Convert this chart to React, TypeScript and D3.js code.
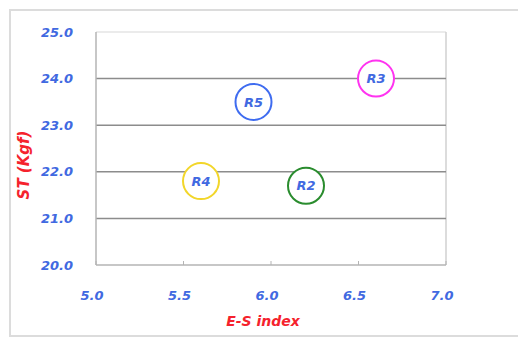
import React from "react";
import * as d3 from "d3";

const labels = ["R3", "R5", "R4", "R2"];
const esIndex = [6.6, 5.9, 5.6, 6.2];
const stValues = [24.0, 23.5, 21.8, 21.7];
const ringColors = ["#ff33f0", "#3f6cf0", "#f2d62a", "#2a8c2e"];
const xTicks = [5.0, 5.5, 6.0, 6.5, 7.0];
const yTicks = [20, 21, 22, 23, 24, 25];

const W = 518;
const H = 338;
const L = 96, R = 446, T = 32, B = 265;
const blue = "#4169e1";
const red = "#f5222d";
const font = "'DejaVu Sans', Verdana, sans-serif";

export default function App() {
  const x = d3.scaleLinear().domain([5, 7]).range([L, R]);
  const y = d3.scaleLinear().domain([20, 25]).range([B, T]);
  return (
    <svg width={W} height={H} style={{ position: "absolute", left: 0, top: 0, background: "#fff" }}>
      <rect x={10} y={10} width={520} height={326} fill="#fff" stroke="#dcdcdc" strokeWidth={2} />
      {/* plot frame */}
      <line x1={L} x2={R} y1={T} y2={T} stroke="#e4e4e4" strokeWidth={1.5} />
      <line x1={R} x2={R} y1={T} y2={B} stroke="#d0d0d0" strokeWidth={1.5} />
      {yTicks.filter((t) => t > 20 && t < 25).map((t) => (
        <line key={t} x1={L} x2={R} y1={y(t)} y2={y(t)} stroke="#8c8c8c" strokeWidth={1.5} />
      ))}
      <line x1={L} x2={L} y1={T} y2={B} stroke="#b4b4b4" strokeWidth={1.5} />
      <line x1={L} x2={R} y1={B} y2={B} stroke="#b4b4b4" strokeWidth={1.5} />
      {xTicks.map((t) => (
        <line key={t} x1={x(t)} x2={x(t)} y1={B} y2={B - 4} stroke="#b4b4b4" strokeWidth={1} />
      ))}
      {/* y tick labels */}
      {yTicks.map((t) => (
        <text key={t} x={73} y={y(t)} dy="0.36em" textAnchor="end" fill={blue}
          fontFamily={font} fontWeight="bold" fontStyle="italic" fontSize={13}>
          {d3.format(".1f")(t)}
        </text>
      ))}
      {/* x tick labels */}
      {xTicks.map((t) => (
        <text key={t} x={x(t) - 4} y={300} textAnchor="middle" fill={blue}
          fontFamily={font} fontWeight="bold" fontStyle="italic" fontSize={13}>
          {d3.format(".1f")(t)}
        </text>
      ))}
      {/* axis titles */}
      <text x={263} y={326} textAnchor="middle" fill={red} fontFamily={font}
        fontWeight="bold" fontStyle="italic" fontSize={14}>E-S index</text>
      <text transform="translate(29,165) rotate(-90)" textAnchor="middle" fill={red}
        fontFamily={font} fontWeight="bold" fontStyle="italic" fontSize={15}>ST (Kgf)</text>
      {/* points */}
      {labels.map((lab, i) => (
        <g key={lab}>
          <circle cx={x(esIndex[i])} cy={y(stValues[i])} r={18} fill="#fff"
            stroke={ringColors[i]} strokeWidth={2} />
          <text x={x(esIndex[i])} y={y(stValues[i])} dy="0.36em" textAnchor="middle"
            fill={blue} fontFamily={font} fontWeight="bold" fontStyle="italic" fontSize={13}>
            {lab}
          </text>
        </g>
      ))}
    </svg>
  );
}
